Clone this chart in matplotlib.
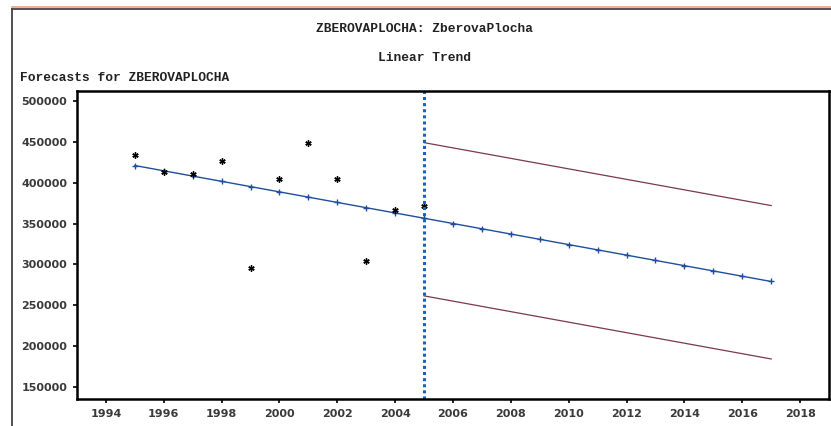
import matplotlib.pyplot as plt
from matplotlib.lines import Line2D

# data
years_actual = [1995, 1996, 1997, 1998, 1999, 2000, 2001, 2002, 2003, 2004, 2005]
actual = [434000, 413000, 411000, 427000, 295000, 404000, 448000, 404000, 304000, 367000, 372000]

years_trend = list(range(1995, 2018))
trend = [421000, 414550, 408100, 401650, 395200, 388750, 382300, 375850, 369400,
         362950, 356500, 350050, 343600, 337150, 330700, 324250, 317800, 311350,
         304900, 298450, 292000, 285550, 279100]

years_band = [2005, 2017]
upper = [449000, 372000]
lower = [261500, 184300]

forecast_start = 2005
x_ticks = list(range(1994, 2019, 2))
y_ticks = [150000, 200000, 250000, 300000, 350000, 400000, 450000, 500000]

fig = plt.figure(figsize=(8.31, 4.26), dpi=100)
ax = fig.add_axes([77 / 831, 27 / 426, 752 / 831, 308 / 426])

ax.plot(years_trend, trend, color='#1f4f9c', linewidth=1.0, marker='+',
        markersize=5, markeredgewidth=1.0)
ax.plot(years_band, upper, color='#7a3a4a', linewidth=0.9)
ax.plot(years_band, lower, color='#7a3a4a', linewidth=0.9)
ax.plot(years_actual, actual, linestyle='none', marker=(6, 2, 0), color='black',
        markersize=4.5, markeredgewidth=1.0)
ax.axvline(forecast_start, color='#1f5fbf', linewidth=2.2, linestyle=(0, (1, 1)))

ax.set_xlim(1993, 2019)
ax.set_ylim(135300, 512200)
ax.set_xticks(x_ticks)
ax.set_yticks(y_ticks)
ax.set_xticklabels([str(v) for v in x_ticks])
ax.set_yticklabels([str(v) for v in y_ticks])
ax.tick_params(direction='out', length=3, width=1.2, colors='black',
               labelcolor='#3a3a3a', labelsize=8, pad=4)
for lab in ax.get_xticklabels() + ax.get_yticklabels():
    lab.set_fontweight('bold')
    lab.set_family('DejaVu Sans')
for sp in ax.spines.values():
    sp.set_linewidth(1.8)
    sp.set_color('black')

# titles in SAS style
mono = dict(family='Liberation Mono', fontweight='bold', fontsize=9.3, color='#222222')
fig.text(425 / 831, 1 - 29 / 426, 'ZBEROVAPLOCHA: ZberovaPlocha', ha='center', va='center', **mono)
fig.text(425 / 831, 1 - 58 / 426, 'Linear Trend', ha='center', va='center', **mono)
fig.text(20 / 831, 1 - 78 / 426, 'Forecasts for ZBEROVAPLOCHA', ha='left', va='center', **mono)

# outer frame
fig.add_artist(Line2D([12 / 831, 1], [1 - 7 / 426, 1 - 7 / 426], color='#f0a080', linewidth=1.2))
fig.add_artist(Line2D([12 / 831, 1], [1 - 9 / 426, 1 - 9 / 426], color='#444444', linewidth=1.3))
fig.add_artist(Line2D([12 / 831, 12 / 831], [0, 1 - 9 / 426], color='#444444', linewidth=1.3))

fig.savefig('out.png', dpi=100)
